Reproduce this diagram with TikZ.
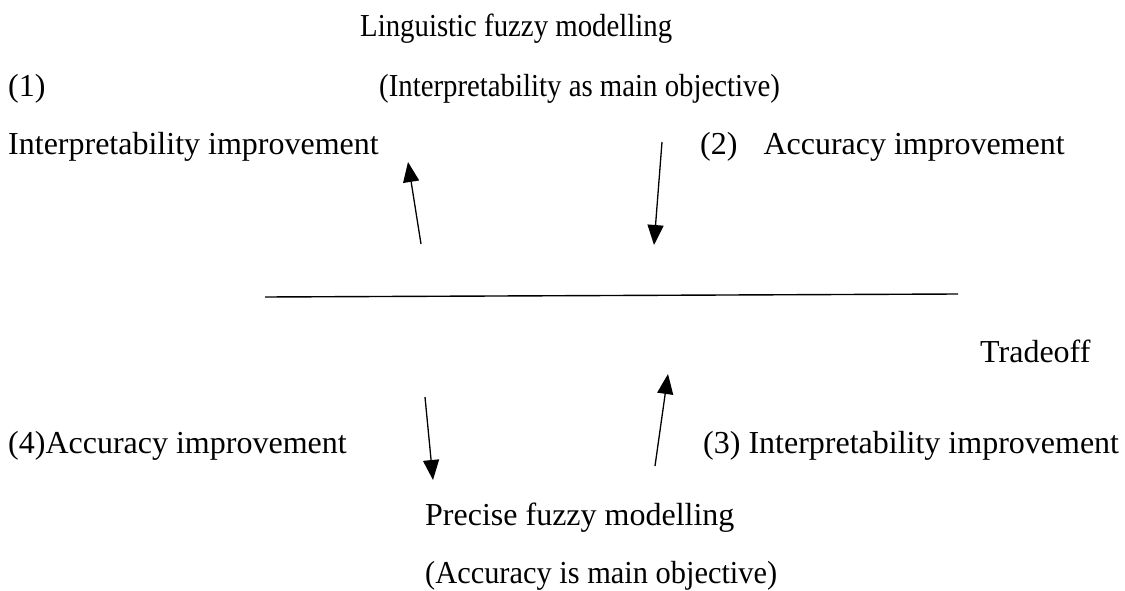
\documentclass[tikz,border=0pt]{standalone}
\usepackage{fontspec}
\setmainfont{Liberation Serif}
\usetikzlibrary{arrows.meta}
\begin{document}
\begin{tikzpicture}[x=1pt,y=-1pt,
  lbl/.style={anchor=base west,inner sep=0pt,font=\fontsize{32}{36}\selectfont},
  arr/.style={line width=1.3pt,-{Triangle[width=16pt,length=20pt]}},
  ln/.style={line width=1.4pt}]
\useasboundingbox (0,0) rectangle (1125,591);
\node[lbl] (ling) at (360,37) {\scalebox{0.9}[1]{Linguistic fuzzy modelling}};
\node[lbl] (one) at (8,97) {(1)};
\node[lbl] (interp) at (379,97) {\scalebox{0.9}[1]{(Interpretability as main objective)}};
\node[lbl] (ii1) at (8,155) {Interpretability improvement};
\node[lbl] (ai2) at (700,155) {(2)\hspace{26pt}Accuracy improvement};
\node[lbl] (trade) at (980,362) {Tradeoff};
\node[lbl] (ai4) at (8,453) {(4)Accuracy improvement};
\node[lbl] (ii3) at (703,453) {(3) Interpretability improvement};
\node[lbl] (prec) at (425,525) {Precise fuzzy modelling};
\node[lbl] (acc) at (425,583) {\scalebox{0.95}[1]{(Accuracy is main objective)}};
\coordinate (a1s) at (421,244);
\coordinate (a1e) at (408,162);
\coordinate (a2s) at (662,142);
\coordinate (a2e) at (654,245);
\coordinate (a3s) at (655,466);
\coordinate (a3e) at (668,374);
\coordinate (a4s) at (425,397);
\coordinate (a4e) at (433,480);
\coordinate (ls) at (265,297);
\coordinate (le) at (958,294);
\draw[arr] (a1s) -- (a1e);
\draw[arr] (a2s) -- (a2e);
\draw[arr] (a3s) -- (a3e);
\draw[arr] (a4s) -- (a4e);
\draw[ln] (ls) -- (le);
\end{tikzpicture}
\end{document}
